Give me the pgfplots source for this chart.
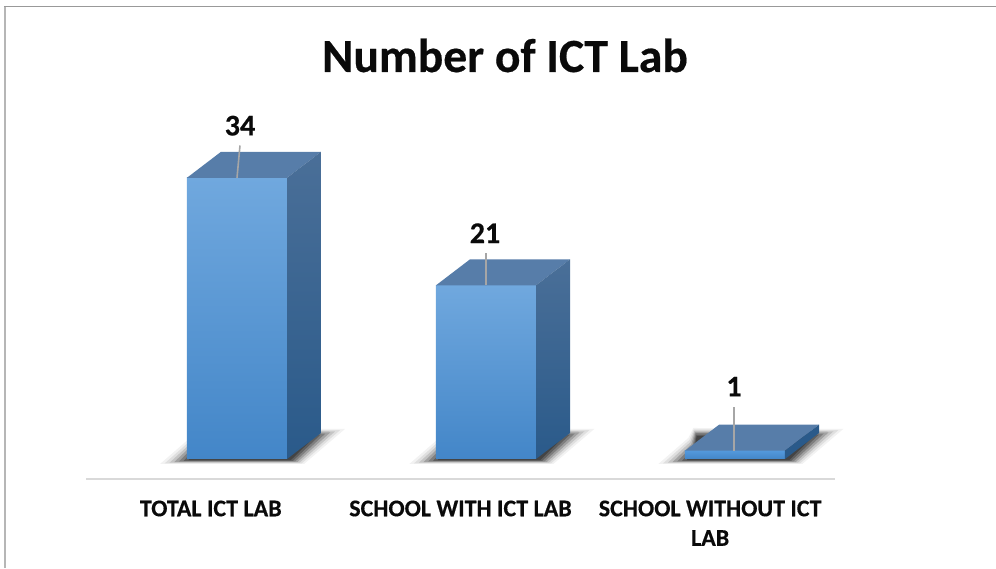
\documentclass[border=0pt]{standalone}
\usepackage{fontspec}
\setmainfont[BoldFeatures={FakeBold=0.4}]{Carlito}
\usepackage{pgfplots}
\pgfplotsset{compat=1.18}
\definecolor{txt}{HTML}{0A0A0A}
\definecolor{frontT}{HTML}{70A8DE}
\definecolor{frontM}{HTML}{5499DC}
\definecolor{frontB}{HTML}{4386C8}
\definecolor{topc}{HTML}{577DA9}
\definecolor{sideT}{HTML}{4A6F98}
\definecolor{sideB}{HTML}{2A5A8A}
\definecolor{lead}{HTML}{A6A6A6}
\definecolor{axl}{HTML}{D9D9D9}
\newcommand\shadowbar[1]{%
  \addplot[fill=black,fill opacity=.05,draw=none,xshift=#1pt] coordinates {(-0.2036,-0.605)(-0.0835,2.54)(-0.0634,3.75)(0.5374,3.63)(0.3732,-0.605)} -- cycle;
  \addplot[fill=black,fill opacity=.08,draw=none,xshift=#1pt] coordinates {(-0.1847,-0.529)(-0.0796,2.28)(-0.0612,3.59)(0.5178,3.49)(0.3643,-0.529)} -- cycle;
  \addplot[fill=black,fill opacity=.12,draw=none,xshift=#1pt] coordinates {(-0.1657,-0.453)(-0.0757,2.03)(-0.0589,3.43)(0.4983,3.35)(0.3555,-0.453)} -- cycle;
  \addplot[fill=black,fill opacity=.18,draw=none,xshift=#1pt] coordinates {(-0.1468,-0.378)(-0.0718,1.77)(-0.0567,3.28)(0.4787,3.22)(0.3466,-0.378)} -- cycle;
  \addplot[fill=black,fill opacity=.22,draw=none,xshift=#1pt] coordinates {(-0.1279,-0.302)(-0.0678,1.51)(-0.0545,3.12)(0.4591,3.08)(0.3377,-0.302)} -- cycle;
  \addplot[fill=black,fill opacity=.25,draw=none,xshift=#1pt] coordinates {(-0.1089,-0.226)(-0.0639,1.26)(-0.0522,2.96)(0.4396,2.94)(0.3289,-0.226)} -- cycle;
  \addplot[fill=black,fill opacity=.28,draw=none,xshift=#1pt] coordinates {(-0.09,-0.15)(-0.06,1.0)(-0.05,2.8)(0.42,2.8)(0.32,-0.15)} -- cycle;
}
\begin{document}
\begin{tikzpicture}[x=1pt,y=1pt]
\path[use as bounding box] (0,0) rectangle (996,568);
\draw[color=lightgray!85!gray,line width=2pt] (5,0) -- (5,561.5);
\draw[color=gray!80,line width=1pt] (4,561.5) -- (996,561.5);
\node[font=\fontsize{47.6}{54}\selectfont\bfseries,text=txt,anchor=base] at (505,496) {Number of ICT Lab};
\begin{axis}[
  at={(86pt,89pt)},anchor=south west,
  scale only axis,width=749pt,height=392.2pt,
  xmin=-0.5,xmax=2.5,ymin=-2.42,ymax=45,
  axis y line=none,
  axis x line=bottom,
  axis line style={-,axl,line width=2pt},
  xtick={0,1,2},
  xticklabels={{TOTAL ICT LAB},{SCHOOL WITH ICT LAB},{SCHOOL WITHOUT ICT\\LAB}},
  major tick length=0pt,
  xticklabel style={font=\fontsize{24}{29.5}\selectfont\bfseries,text=txt,align=flush center,text width=245pt,yshift=-18pt},
  clip=false,
]
% floor shadows
\shadowbar{0}
\shadowbar{249.3}
\shadowbar{498.3}
% front faces
\addplot[ybar,bar width=100pt,bar shift=0pt,draw=none,top color=frontT,middle color=frontM,bottom color=frontB] coordinates {(0.1048,34)};
\addplot[ybar,bar width=100pt,bar shift=0pt,draw=none,top color=frontT,middle color=frontM,bottom color=frontB] coordinates {(1.1021,21)};
\addplot[ybar,bar width=100pt,bar shift=0pt,draw=none,top color=frontM,bottom color=frontB] coordinates {(2.0994,1)};
% top faces
\addplot[fill=topc,draw=none] coordinates {(-0.0955,34)(0.3051,34)(0.4412,37.14)(0.0407,37.14)} -- cycle;
\addplot[fill=topc,draw=none] coordinates {(0.9019,21)(1.3024,21)(1.4386,24.14)(1.0381,24.14)} -- cycle;
\addplot[fill=topc,draw=none] coordinates {(1.8992,1)(2.2997,1)(2.4359,4.14)(2.0354,4.14)} -- cycle;
% side faces
\addplot[top color=sideT,bottom color=sideB,draw=none] coordinates {(0.3051,0)(0.4412,3.14)(0.4412,37.14)(0.3051,34)} -- cycle;
\addplot[top color=sideT,bottom color=sideB,draw=none] coordinates {(1.3024,0)(1.4386,3.14)(1.4386,24.14)(1.3024,21)} -- cycle;
\addplot[fill=sideB,draw=none] coordinates {(2.2997,0)(2.4359,3.14)(2.4359,4.14)(2.2997,1)} -- cycle;
% leader lines
\addplot[lead,line width=1.6pt] coordinates {(0.1048,34)(0.1168,37.9)};
\addplot[lead,line width=1.6pt] coordinates {(1.1021,21)(1.1021,24.9)};
\addplot[lead,line width=1.6pt] coordinates {(2.0954,1)(2.0954,6.3)};
% data labels
\addplot[draw=none,mark=none,point meta=explicit symbolic,
  nodes near coords,
  nodes near coords align={center},
  every node near coord/.append style={font=\fontsize{30}{34}\selectfont\bfseries,text=txt,anchor=center}]
  coordinates {(0.1168,40.3)[34] (1.0981,27.3)[21] (2.0954,8.75)[1]};
\end{axis}
\end{tikzpicture}
\end{document}
